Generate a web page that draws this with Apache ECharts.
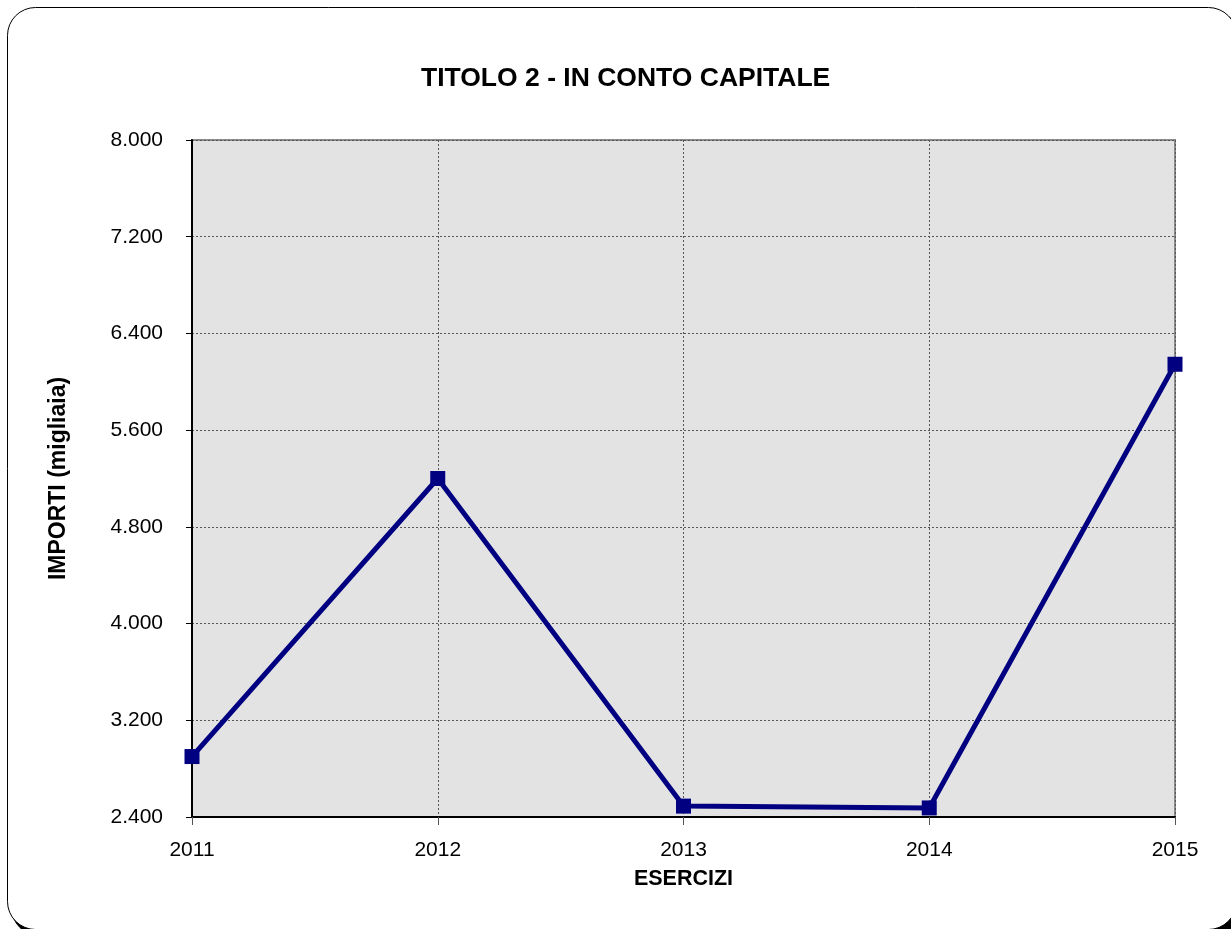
<!DOCTYPE html>
<html>
<head>
<meta charset="utf-8">
<script src="https://cdn.jsdelivr.net/npm/echarts@6/dist/echarts.min.js"></script>
<style>
  html, body { margin: 0; padding: 0; background: #ffffff; }
  #chart { width: 1231px; height: 929px; }
</style>
</head>
<body>
<div id="chart"></div>
<script>
// Esercizi (anni) e importi in migliaia
const years = ['2011', '2012', '2013', '2014', '2015'];
const importi = [2900, 5200, 2490, 2475, 6145];

// Scala dell'asse verticale
const yMin = 2400;
const yMax = 8000;
const yStep = 800;

const chartTitle = 'TITOLO 2 - IN CONTO CAPITALE';
const xName = 'ESERCIZI';
const yName = 'IMPORTI (migliaia)';

// Separatore delle migliaia all'italiana
function fmt(v) {
  return v.toString().replace(/\B(?=(\d{3})+(?!\d))/g, '.');
}

const chart = echarts.init(document.getElementById('chart'), null, { renderer: 'canvas' });

const font = 'Arial, "Liberation Sans", Helvetica, sans-serif';

chart.setOption({
  animation: false,
  backgroundColor: '#ffffff',
  graphic: [
    {
      type: 'rect',
      z: -10,
      shape: { x: 11.5, y: 11.5, width: 1229, height: 924, r: 28 },
      style: { fill: '#000000', stroke: '#000000' }
    },
    {
      type: 'rect',
      z: -9,
      shape: { x: 7.5, y: 7.5, width: 1229, height: 922, r: 28 },
      style: { fill: '#ffffff', stroke: '#000000', lineWidth: 1 }
    }
  ],
  title: {
    text: chartTitle,
    left: 416,
    top: 60,
    textStyle: { fontFamily: font, fontSize: 26.5, fontWeight: 'bold', color: '#000000' }
  },
  grid: {
    left: 192,
    top: 140,
    right: 56,
    bottom: 112,
    show: true,
    backgroundColor: '#e3e3e3',
    borderColor: '#8c8c8c',
    borderWidth: 2
  },
  xAxis: {
    type: 'category',
    data: years,
    boundaryGap: false,
    name: xName,
    nameLocation: 'middle',
    nameGap: 51,
    nameTextStyle: { fontFamily: font, fontSize: 21.5, fontWeight: 'bold', color: '#000000' },
    axisLine: { show: true, lineStyle: { color: '#000000', width: 2 } },
    axisTick: { show: true, length: 8, alignWithLabel: true, lineStyle: { color: '#555555', width: 1 } },
    axisLabel: { margin: 23, fontFamily: font, fontSize: 21, color: '#000000' },
    splitLine: { show: true, lineStyle: { color: '#555555', width: 1, type: [2, 2] } }
  },
  yAxis: {
    type: 'value',
    min: yMin,
    max: yMax,
    interval: yStep,
    name: yName,
    nameLocation: 'middle',
    nameGap: 122,
    nameTextStyle: { fontFamily: font, fontSize: 23, fontWeight: 'bold', color: '#000000' },
    axisLine: { show: true, lineStyle: { color: '#000000', width: 2 } },
    axisTick: { show: true, length: 6, lineStyle: { color: '#000000', width: 1 } },
    axisLabel: { margin: 29, fontFamily: font, fontSize: 21, color: '#000000', formatter: fmt },
    splitLine: { show: true, lineStyle: { color: '#555555', width: 1, type: [2, 2] } }
  },
  series: [
    {
      type: 'line',
      data: importi,
      symbol: 'rect',
      symbolSize: 15,
      lineStyle: { color: '#000080', width: 5 },
      itemStyle: { color: '#000080' },
      z: 5
    }
  ]
});
</script>
</body>
</html>
